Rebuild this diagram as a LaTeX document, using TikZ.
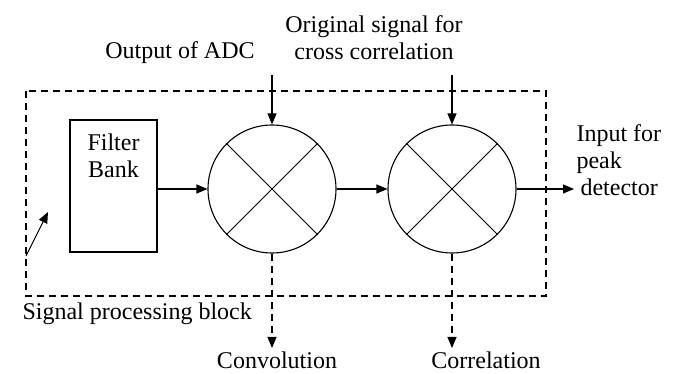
\documentclass[tikz,border=0pt]{standalone}
\usepackage{fontspec}
\setmainfont{Liberation Serif}
\usepackage{tikz}
\usetikzlibrary{calc, positioning, arrows.meta}
\tikzset{
  mixer/.style={draw, circle, minimum size=128pt, inner sep=0pt},
  blockbox/.style={draw, rectangle, minimum width=87pt, minimum height=132pt},
  sig/.style={-{Triangle[length=11pt,width=9pt]}},
  lbl/.style={font=\rmfamily\fontsize{24}{27}\selectfont, inner sep=0pt}
}

\begin{document}
\begin{tikzpicture}[x=1pt, y=-1pt, line width=1.1pt]
  \useasboundingbox (0,0) rectangle (673,374);

  % processing block outline
  \draw[dashed, dash pattern=on 7pt off 5pt] (26,91) rectangle (546,296);
  \node[lbl, anchor=base west] (spb) at (22,320) {Signal processing block};
  \coordinate (spbtail) at (26,256);
  \coordinate (spbhead) at (48,212);
  \draw[sig] (spbtail) -- (spbhead);

  % blocks
  \node[blockbox] (filter) at (113.5,186) {};
  \node[lbl, align=center, anchor=north] (filtertxt) at ($(filter.north)+(0,14)$) {Filter\\Bank};
  \node[mixer] (conv) at (272,189) {};
  \node[mixer] (corr) at (452,189) {};
  \foreach \m in {conv, corr} {
    \draw[line width=0.8pt] (\m.45) -- (\m.225);
    \draw[line width=0.8pt] (\m.135) -- (\m.315);
  }

  % inputs from above
  \node[lbl, anchor=base] (adc) at (180,59) {Output of ADC};
  \node[lbl, align=center, anchor=south] (orig) at (374,60) {Original signal for\\cross correlation};
  \coordinate (adcin) at (272,75);
  \coordinate (origin) at (452,75);
  \draw[sig] (adcin) -- (conv.north);
  \draw[sig] (origin) -- (corr.north);

  % chain
  \draw[sig] (filter.east |- conv.west) -- (conv.west);
  \draw[sig] (conv.east) -- (corr.west);
  \coordinate (peakin) at (574,189);
  \draw[sig] (corr.east) -- (peakin);
  \node[lbl, align=left, anchor=north west] (peak) at (576,124) {Input for\\peak\\\hspace{4pt}detector};

  % taps below
  \coordinate (convout) at (272,348);
  \coordinate (corrout) at (452,348);
  \draw[sig, dashed, dash pattern=on 7pt off 5pt] (conv.south) -- (convout);
  \draw[sig, dashed, dash pattern=on 7pt off 5pt] (corr.south) -- (corrout);
  \node[lbl, anchor=base] (convlbl) at (277,369) {Convolution};
  \node[lbl, anchor=base] (corrlbl) at (486,369) {Correlation};
\end{tikzpicture}
\end{document}
